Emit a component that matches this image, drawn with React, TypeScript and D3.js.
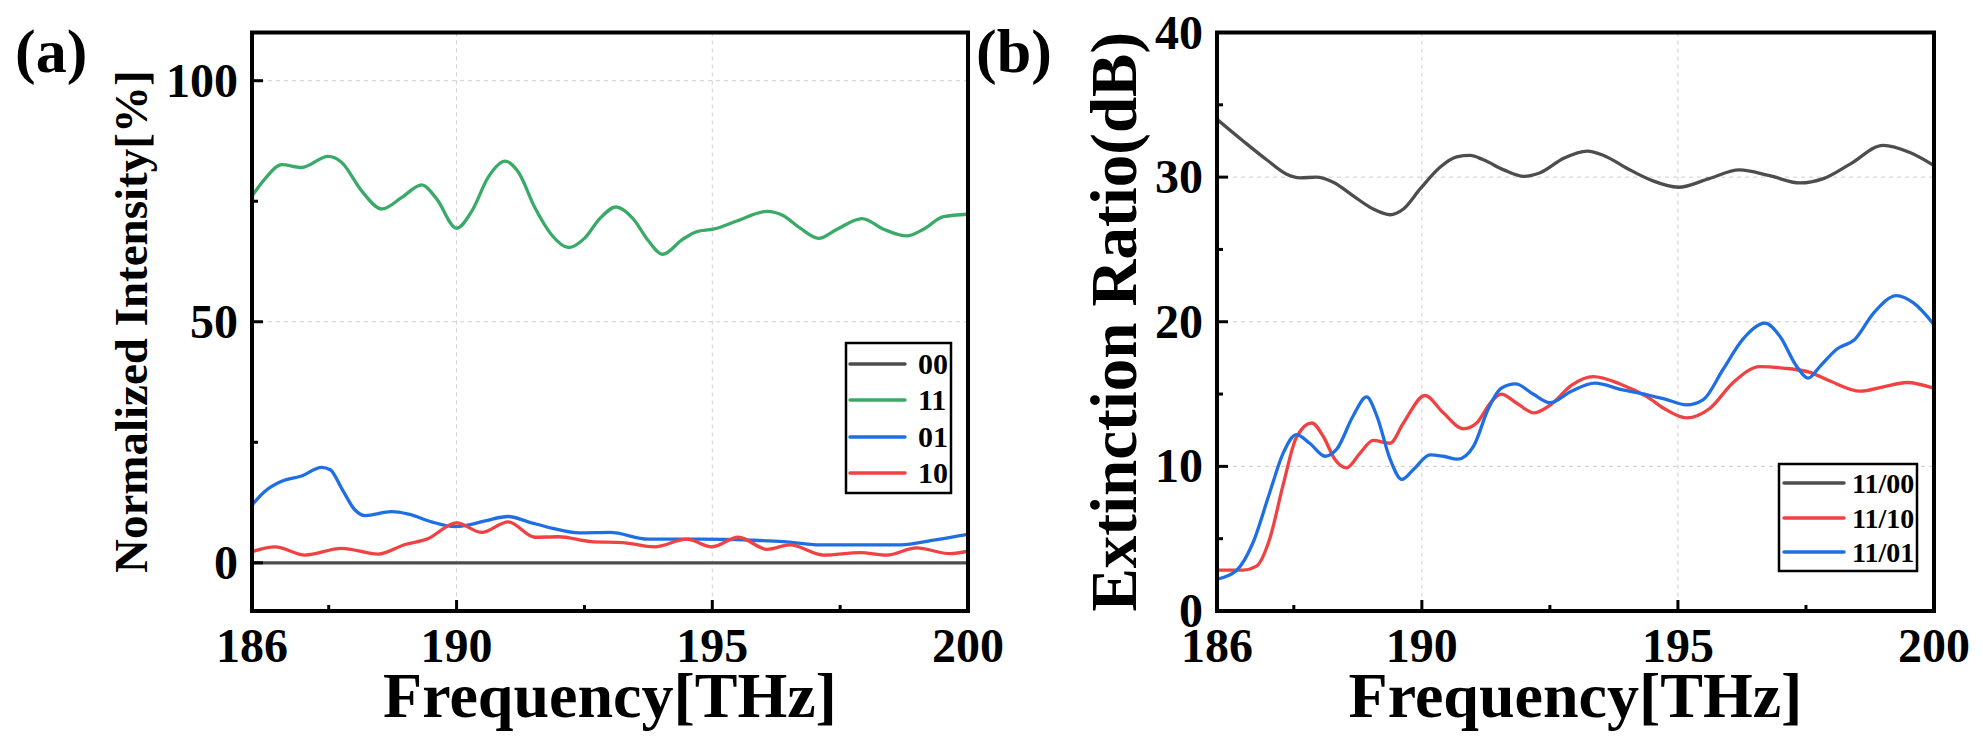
import * as d3 from "d3";

type Pt = [number, number];

// x axis (both panels)
const freqDomain: Pt = [186, 200];
const freqTicks = [186, 190, 195, 200];
const freqMinor = [187.5, 192.5, 197.5];
const freqGrid = [190, 195];

// panel (a) y axis
const intensityDomain: Pt = [-10, 110];
const intensityTicks = [0, 50, 100];
const intensityMinor = [25, 75];
const intensityGrid = [0, 50, 100];

// panel (b) y axis
const ratioDomain: Pt = [0, 40];
const ratioTicks = [0, 10, 20, 30, 40];
const ratioMinor = [5, 15, 25, 35];
const ratioGrid = [10, 20, 30];

// panel (a) normalized intensity [%]
const state00: Pt[] = [[186, 0], [200, 0]];
const state11: Pt[] = [
  [186, 76.1], [186.25, 79.6], [186.58, 82.6], [186.97, 82.0], [187.49, 84.3], [187.75, 83.1],
  [188.14, 77.2], [188.54, 73.4], [188.93, 75.8], [189.32, 78.4], [189.61, 75.5], [190.0, 69.4],
  [190.3, 73.0], [190.62, 80.0], [190.95, 83.3], [191.21, 81.0], [191.53, 73.7], [191.86, 68.0],
  [192.19, 65.4], [192.5, 67.3], [192.8, 71.4], [193.12, 73.8], [193.45, 71.4], [193.75, 66.8],
  [194.03, 64.0], [194.42, 67.1], [194.7, 68.7], [195.02, 69.2], [195.48, 70.9], [196.07, 72.9],
  [196.39, 72.0], [196.72, 69.4], [197.08, 67.3], [197.44, 69.2], [197.93, 71.4], [198.35, 69.2],
  [198.8, 67.8], [199.13, 69.2], [199.52, 71.8], [200, 72.3],
];
const state01: Pt[] = [
  [186, 12.0], [186.25, 14.8], [186.58, 16.9], [186.97, 18.0], [187.36, 19.8], [187.53, 19.3],
  [187.75, 15.5], [188.01, 11.0], [188.21, 9.8], [188.73, 10.6], [189.06, 10.1], [189.51, 8.5],
  [189.97, 7.5], [190.17, 7.7], [190.56, 8.7], [191.01, 9.6], [191.4, 8.5], [191.86, 7.2],
  [192.4, 6.2], [193.0, 6.3], [193.75, 4.9], [194.76, 4.9], [195.74, 4.7], [196.39, 4.4],
  [197.11, 3.7], [198.68, 3.7], [199.33, 4.7], [200, 5.9],
];
const state10: Pt[] = [
  [186, 2.3], [186.45, 3.3], [187.04, 1.6], [187.75, 3.0], [188.47, 1.8], [188.99, 3.8],
  [189.42, 4.9], [190.0, 8.3], [190.49, 6.3], [191.01, 8.5], [191.53, 5.3], [191.99, 5.4],
  [192.63, 4.4], [193.25, 4.2], [193.87, 3.3], [194.5, 4.9], [194.99, 3.3], [195.51, 5.3],
  [196.07, 2.8], [196.52, 3.7], [197.18, 1.6], [197.89, 2.1], [198.41, 1.6], [198.99, 3.1],
  [199.65, 1.9], [200, 2.4],
];

// panel (b) extinction ratio [dB]
const er1100: Pt[] = [
  [186, 34.0], [186.51, 32.5], [186.97, 31.2], [187.36, 30.2], [187.62, 29.95], [187.94, 30.0],
  [188.27, 29.65], [188.66, 28.7], [189.05, 27.8], [189.38, 27.4], [189.64, 27.8], [189.97, 29.2],
  [190.36, 30.7], [190.68, 31.4], [190.94, 31.5], [191.2, 31.2], [191.6, 30.5], [191.99, 30.05],
  [192.31, 30.3], [192.77, 31.3], [193.23, 31.8], [193.55, 31.5], [194.01, 30.6], [194.47, 29.8],
  [195.01, 29.3], [195.61, 29.9], [196.2, 30.5], [196.79, 30.1], [197.38, 29.6], [197.84, 29.9],
  [198.36, 30.9], [199.01, 32.2], [199.53, 31.7], [200, 30.8],
];
const er1110: Pt[] = [
  [186, 2.83], [186.51, 2.83], [186.77, 3.1], [187.03, 5.0], [187.29, 8.7], [187.55, 12.0],
  [187.85, 13.0], [188.07, 12.1], [188.3, 10.5], [188.53, 9.9], [188.79, 10.9], [189.05, 11.8],
  [189.38, 11.6], [189.64, 13.0], [190.06, 14.9], [190.42, 13.7], [190.81, 12.6], [191.07, 13.0],
  [191.34, 14.4], [191.55, 15.0], [191.84, 14.4], [192.19, 13.7], [192.53, 14.3], [192.92, 15.6],
  [193.35, 16.2], [193.87, 15.7], [194.4, 14.8], [194.73, 14.0], [195.17, 13.35], [195.62, 14.0],
  [196.08, 15.8], [196.6, 16.9], [197.05, 16.8], [197.58, 16.5], [197.97, 15.9], [198.56, 15.2],
  [199.01, 15.5], [199.47, 15.8], [200, 15.4],
];
const er1101: Pt[] = [
  [186, 2.2], [186.38, 2.8], [186.7, 4.7], [187.03, 8.2], [187.29, 10.9], [187.55, 12.2],
  [187.81, 11.6], [188.11, 10.7], [188.34, 11.2], [188.66, 13.5], [188.92, 14.8], [189.12, 13.5],
  [189.38, 10.5], [189.61, 9.1], [189.84, 9.8], [190.16, 10.8], [190.42, 10.7], [190.7, 10.5],
  [191.01, 11.4], [191.3, 14.0], [191.55, 15.4], [191.83, 15.7], [192.17, 15.0], [192.5, 14.4],
  [192.92, 15.2], [193.38, 15.75], [193.9, 15.3], [194.4, 14.95], [194.75, 14.65], [195.17, 14.25],
  [195.49, 14.6], [195.88, 16.7], [196.27, 18.8], [196.7, 19.9], [196.99, 19.0], [197.32, 16.9],
  [197.54, 16.1], [197.77, 16.9], [198.1, 18.1], [198.46, 18.8], [198.82, 20.6], [199.27, 21.8],
  [199.6, 21.3], [200, 19.8],
];

const GRAY = "#4d4d4d";
const GREEN = "#3aaa68";
const BLUE = "#1f6fe3";
const RED = "#f04242";
const FONT = "'Liberation Serif', 'Times New Roman', serif";

interface Series {
  label: string;
  color: string;
  data: Pt[];
}

interface LegendBox {
  x: number;
  y: number;
  w: number;
  h: number;
  rows: number[];
  lineX: [number, number];
  textX: number;
  size: number;
}

interface PanelProps {
  id: string;
  x0: number;
  x1: number;
  y0: number;
  y1: number;
  yDomain: Pt;
  yTicks: number[];
  yMinor: number[];
  yGrid: number[];
  series: Series[];
  legendOrder: Series[];
  legend: LegendBox;
  yLabel: string;
  yLabelX: number;
  yLabelSize: number;
  tag: string;
  tagX: number;
}

function Panel(p: PanelProps) {
  const x = d3.scaleLinear().domain(freqDomain).range([p.x0, p.x1]);
  const y = d3.scaleLinear().domain(p.yDomain).range([p.y1, p.y0]);
  const line = d3
    .line<Pt>()
    .x((d) => x(d[0]))
    .y((d) => y(d[1]))
    .curve(d3.curveMonotoneX);
  const cx = (p.x0 + p.x1) / 2;
  const cy = (p.y0 + p.y1) / 2;
  const lg = p.legend;

  return (
    <g>
      <defs>
        <clipPath id={`clip-${p.id}`}>
          <rect x={p.x0} y={p.y0} width={p.x1 - p.x0} height={p.y1 - p.y0} />
        </clipPath>
      </defs>

      {/* grid */}
      {freqGrid.map((t) => (
        <line key={`gx${t}`} x1={x(t)} x2={x(t)} y1={p.y0} y2={p.y1}
          stroke="#cfcfcf" strokeWidth={1} strokeDasharray="4,4" />
      ))}
      {p.yGrid.map((t) => (
        <line key={`gy${t}`} x1={p.x0} x2={p.x1} y1={y(t)} y2={y(t)}
          stroke="#cfcfcf" strokeWidth={1} strokeDasharray="4,4" />
      ))}

      {/* curves */}
      <g clipPath={`url(#clip-${p.id})`}>
        {p.series.map((s) => (
          <path key={s.label} d={line(s.data) || ""} fill="none" stroke={s.color}
            strokeWidth={3.3} strokeLinejoin="round" />
        ))}
      </g>

      {/* ticks, inward */}
      {p.yTicks.map((t) => (
        <line key={`ty${t}`} x1={p.x0} x2={p.x0 + 11} y1={y(t)} y2={y(t)} stroke="#000" strokeWidth={3} />
      ))}
      {p.yMinor.map((t) => (
        <line key={`my${t}`} x1={p.x0} x2={p.x0 + 6} y1={y(t)} y2={y(t)} stroke="#000" strokeWidth={3} />
      ))}
      {freqTicks.map((t) => (
        <line key={`tx${t}`} x1={x(t)} x2={x(t)} y1={p.y1} y2={p.y1 - 11} stroke="#000" strokeWidth={3} />
      ))}
      {freqMinor.map((t) => (
        <line key={`mx${t}`} x1={x(t)} x2={x(t)} y1={p.y1} y2={p.y1 - 6} stroke="#000" strokeWidth={3} />
      ))}

      {/* frame */}
      <rect x={p.x0} y={p.y0} width={p.x1 - p.x0} height={p.y1 - p.y0}
        fill="none" stroke="#000" strokeWidth={4} />

      {/* tick labels */}
      <g fontFamily={FONT} fontWeight="bold" fontSize={48} fill="#000">
        {freqTicks.map((t) => (
          <text key={`lx${t}`} x={x(t)} y={662} textAnchor="middle">{t}</text>
        ))}
        {p.yTicks.map((t) => (
          <text key={`ly${t}`} x={p.x0 - 14} y={y(t) + 16} textAnchor="end">{t}</text>
        ))}
      </g>

      {/* axis titles */}
      <text x={cx} y={717} textAnchor="middle" fontFamily={FONT} fontWeight="bold" fontSize={64}>
        Frequency[THz]
      </text>
      <text transform={`translate(${p.yLabelX},${cy}) rotate(-90)`} textAnchor="middle"
        fontFamily={FONT} fontWeight="bold" fontSize={p.yLabelSize}>
        {p.yLabel}
      </text>
      <text x={p.tagX} y={72} fontFamily={FONT} fontWeight="bold" fontSize={62}>{p.tag}</text>

      {/* legend */}
      <rect x={lg.x} y={lg.y} width={lg.w} height={lg.h} fill="#fff" stroke="#000" strokeWidth={2.5} />
      {p.legendOrder.map((s, i) => (
        <g key={`lg${s.label}`}>
          <line x1={lg.lineX[0]} x2={lg.lineX[1]} y1={lg.rows[i]} y2={lg.rows[i]}
            stroke={s.color} strokeWidth={3.5} strokeLinecap="round" />
          <text x={lg.textX} y={lg.rows[i] + lg.size * 0.34} fontFamily={FONT} fontWeight="bold"
            fontSize={lg.size}>{s.label}</text>
        </g>
      ))}
    </g>
  );
}

export default function App() {
  const s00 = { label: "00", color: GRAY, data: state00 };
  const s11 = { label: "11", color: GREEN, data: state11 };
  const s01 = { label: "01", color: BLUE, data: state01 };
  const s10 = { label: "10", color: RED, data: state10 };
  const r00 = { label: "11/00", color: GRAY, data: er1100 };
  const r10 = { label: "11/10", color: RED, data: er1110 };
  const r01 = { label: "11/01", color: BLUE, data: er1101 };

  return (
    <div style={{ position: "absolute", left: 0, top: 0, background: "#fff" }}>
      <svg width={1983} height={747} viewBox="0 0 1983 747">
        <rect width={1983} height={747} fill="#fff" />
        <Panel
          id="a" x0={252} x1={968} y0={32.5} y1={611}
          yDomain={intensityDomain} yTicks={intensityTicks} yMinor={intensityMinor} yGrid={intensityGrid}
          series={[s11, s01, s10, s00]}
          legendOrder={[s00, s11, s01, s10]}
          legend={{ x: 846, y: 343, w: 105, h: 150, rows: [364, 400, 437, 473], lineX: [850, 905], textX: 918, size: 30 }}
          yLabel="Normalized Intensity[%]" yLabelX={147} yLabelSize={47}
          tag="(a)" tagX={15}
        />
        <Panel
          id="b" x0={1217} x1={1934} y0={32.5} y1={611}
          yDomain={ratioDomain} yTicks={ratioTicks} yMinor={ratioMinor} yGrid={ratioGrid}
          series={[r00, r10, r01]}
          legendOrder={[r00, r10, r01]}
          legend={{ x: 1779, y: 464, w: 138, h: 107, rows: [483, 518, 552], lineX: [1784, 1844], textX: 1852, size: 28 }}
          yLabel="Extinction Ratio(dB)" yLabelX={1136} yLabelSize={65}
          tag="(b)" tagX={976}
        />
      </svg>
    </div>
  );
}
